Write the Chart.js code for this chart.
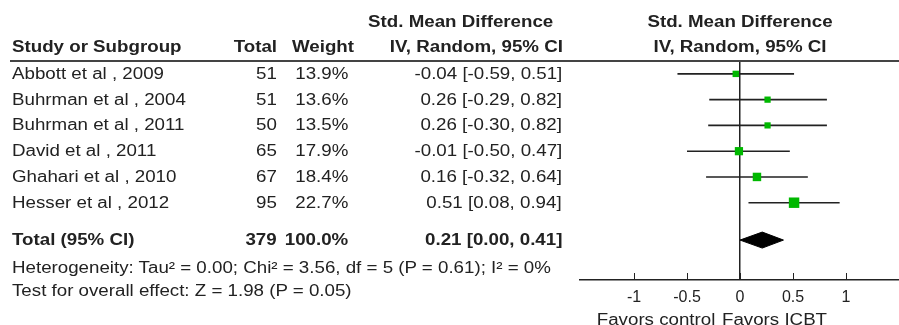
<!DOCTYPE html>
<html><head><meta charset="utf-8">
<script src="https://cdn.jsdelivr.net/npm/chart.js@4/dist/chart.umd.min.js"></script>
<style>
html,body{margin:0;padding:0;background:#fff;}
#wrap{position:relative;width:899px;height:325px;overflow:hidden;font-family:"Liberation Sans",Arial,sans-serif;color:#222;}
canvas{position:absolute;left:0;top:0;}
.t{position:absolute;white-space:nowrap;font-size:16px;line-height:18px;}
.b{font-weight:bold;}
#hline{position:absolute;left:10px;right:0;top:60px;height:2px;background:#444;}
</style></head><body>
<div id="wrap"><canvas id="c" width="899" height="325"></canvas><div id="hline"></div></div>
<script>
// ---- data ----
const studies = ["Abbott et al , 2009","Buhrman et al , 2004","Buhrman et al , 2011","David et al , 2011","Ghahari et al , 2010","Hesser et al , 2012"];
const totals = [51,51,50,65,67,95];
const weights = [13.9,13.6,13.5,17.9,18.4,22.7];
const smd = [-0.04,0.26,0.26,-0.01,0.16,0.51];
const ciLow = [-0.59,-0.29,-0.30,-0.50,-0.32,0.08];
const ciHigh = [0.51,0.82,0.82,0.47,0.64,0.94];
const pooledLabel = "Total (95% CI)";
const pooledTotal = 379;
const pooledWeight = 100.0;
const pooledSmd = 0.21;
const pooledLow = 0.00;
const pooledHigh = 0.41;
const xTickValues = [-1,-0.5,0,0.5,1];
const favorsLabels = ["Favors control","Favors ICBT"];
const headerCols = ["Study or Subgroup","Total","Weight"];
const effectHeader = ["Std. Mean Difference","IV, Random, 95% CI"];
const heterogeneityText = "Heterogeneity: Tau\u00B2 = 0.00; Chi\u00B2 = 3.56, df = 5 (P = 0.61); I\u00B2 = 0%";
const overallText = "Test for overall effect: Z = 1.98 (P = 0.05)";

// ---- layout ----
const AXIS_Y = 280, TOP_Y = 61, LEFT_X = 580, RIGHT_X = 899, ZERO_X = 740, PX_PER_UNIT = 106, STRETCH = 1.17;
const totalRow = studies.length + 0.45;
const f2 = v => v.toFixed(2);
const ciText = (m,l,h) => `${f2(m)} [${f2(l)}, ${f2(h)}]`;

const ciData = [];
studies.forEach((s,i)=>{ ciData.push({x:ciLow[i],y:i},{x:ciHigh[i],y:i},{x:null,y:null}); });
const ptData = studies.map((s,i)=>({x:smd[i],y:i}));
const ptRadius = weights.map(w => (w*0.46)/Math.SQRT2);
const dh = 0.31;
const diamond = [
  {x:pooledLow,y:totalRow},{x:pooledSmd,y:totalRow-dh},{x:pooledHigh,y:totalRow},{x:pooledSmd,y:totalRow+dh},{x:pooledLow,y:totalRow}
];

const tickMarks = {
  id:'tickMarks',
  afterDraw(chart){
    const xs = chart.scales.x, b = chart.chartArea.bottom, ctx = chart.ctx;
    ctx.save(); ctx.strokeStyle = '#222'; ctx.lineWidth = 1;
    xTickValues.forEach(v=>{
      const px = Math.round(xs.getPixelForValue(v)) + 0.5;
      ctx.beginPath(); ctx.moveTo(px, b-7); ctx.lineTo(px, b); ctx.stroke();
    });
    ctx.restore();
  }
};

const cfg = {
  data: {
    datasets: [
      {type:'scatter', data: ptData, order:0, pointStyle:'rect', pointRadius: ptRadius, pointHoverRadius: ptRadius,
       backgroundColor:'#00b800', borderColor:'#00b800', pointBorderWidth:0, borderWidth:0},
      {type:'line', data: ciData, order:1, borderColor:'#222', borderWidth:1.6, pointRadius:0, spanGaps:false, tension:0, fill:false},
      {type:'line', data: diamond, order:2, borderColor:'#000', backgroundColor:'#000', borderWidth:1, pointRadius:0, tension:0, fill:'shape'}
    ]
  },
  options: {
    responsive:false, animation:false, devicePixelRatio:1,
    layout:{autoPadding:false, padding:{left:LEFT_X, right:0, top:TOP_Y, bottom:19}},
    plugins:{legend:{display:false}, tooltip:{enabled:false}},
    scales:{
      x:{type:'linear', min:-1.5, max:1.5, position:'bottom',
         afterBuildTicks:(s)=>{ s.ticks = xTickValues.map(v=>({value:v})); },
         ticks:{padding:8, color:'#222', font:{family:'"Liberation Sans", Arial, sans-serif', size:16},
                maxRotation:0, autoSkip:false, callback:(v)=> String(v)},
         grid:{drawTicks:false, drawOnChartArea:true, lineWidth:1.5,
               color:(c)=> (c.tick && c.tick.value===0) ? '#222' : 'rgba(0,0,0,0)'},
         border:{display:true, color:'#222', width:1.5}},
      y:{type:'linear', reverse:true, min:-0.5, max:8.0, display:false}
    }
  },
  plugins:[tickMarks]
};
const chart = new Chart(document.getElementById('c'), cfg);
const pad = cfg.options.layout.padding;
for (let k=0;k<4;k++){
  const ca = chart.chartArea;
  const db = ca.bottom - AXIS_Y, dr = RIGHT_X - ca.right, dl = ca.left - LEFT_X;
  if (Math.abs(db)<0.5 && Math.abs(dr)<0.5 && Math.abs(dl)<0.5) break;
  pad.bottom += db; pad.right -= dr; pad.left -= dl;
  chart.update();
}
// keep zero at ZERO_X and PX_PER_UNIT per unit for whatever area we got
{
  const ca = chart.chartArea;
  cfg.options.scales.x.min = (ca.left - ZERO_X) / PX_PER_UNIT;
  cfg.options.scales.x.max = (ca.right - ZERO_X) / PX_PER_UNIT;
  chart.update();
}

// ---- text ----
const wrap = document.getElementById('wrap');
const ys = chart.scales.y, xs = chart.scales.x;
function txt(s, x, yc, cls, align){
  const el = document.createElement('div');
  el.className = 't ' + (cls||'');
  el.textContent = s;
  el.style.top = (yc - 9) + 'px';
  el.style.transform = `scaleX(${STRETCH})`;
  if (align === 'right') { el.style.right = (899 - x) + 'px'; el.style.textAlign='right'; el.style.transformOrigin='right center'; }
  else if (align === 'center') { el.style.left = (x - 200) + 'px'; el.style.width='400px'; el.style.textAlign='center'; el.style.transformOrigin='center center'; }
  else { el.style.left = x + 'px'; el.style.transformOrigin='left center'; }
  wrap.appendChild(el);
}
const COL_NAME = 12, COL_TOTAL = 277, COL_WEIGHT = 348, COL_CI = 562;
const H1 = 22, H2 = 47;
txt(effectHeader[0], 553, H1, 'b', 'right');
txt(effectHeader[1], 563, H2, 'b', 'right');
txt(headerCols[0], COL_NAME, H2, 'b');
txt(headerCols[1], COL_TOTAL, H2, 'b', 'right');
txt(headerCols[2], COL_WEIGHT+6, H2, 'b', 'right');
const zx = xs.getPixelForValue(0);
txt(effectHeader[0], zx, H1, 'b', 'center');
txt(effectHeader[1], zx, H2, 'b', 'center');
studies.forEach((s,i)=>{
  const y = ys.getPixelForValue(i);
  txt(s, COL_NAME, y);
  txt(String(totals[i]), COL_TOTAL, y, '', 'right');
  txt(weights[i].toFixed(1)+'%', COL_WEIGHT, y, '', 'right');
  txt(ciText(smd[i],ciLow[i],ciHigh[i]), COL_CI, y, '', 'right');
});
const ty = ys.getPixelForValue(totalRow);
txt(pooledLabel, COL_NAME, ty, 'b');
txt(String(pooledTotal), COL_TOTAL, ty, 'b', 'right');
txt(pooledWeight.toFixed(1)+'%', COL_WEIGHT, ty, 'b', 'right');
txt(ciText(pooledSmd,pooledLow,pooledHigh), COL_CI, ty, 'b', 'right');
txt(heterogeneityText, COL_NAME, 268);
txt(overallText, COL_NAME, 291);
txt(favorsLabels[0], zx - 25, 320, '', 'right');
txt(favorsLabels[1], zx - 18, 320);
</script>
</body></html>
